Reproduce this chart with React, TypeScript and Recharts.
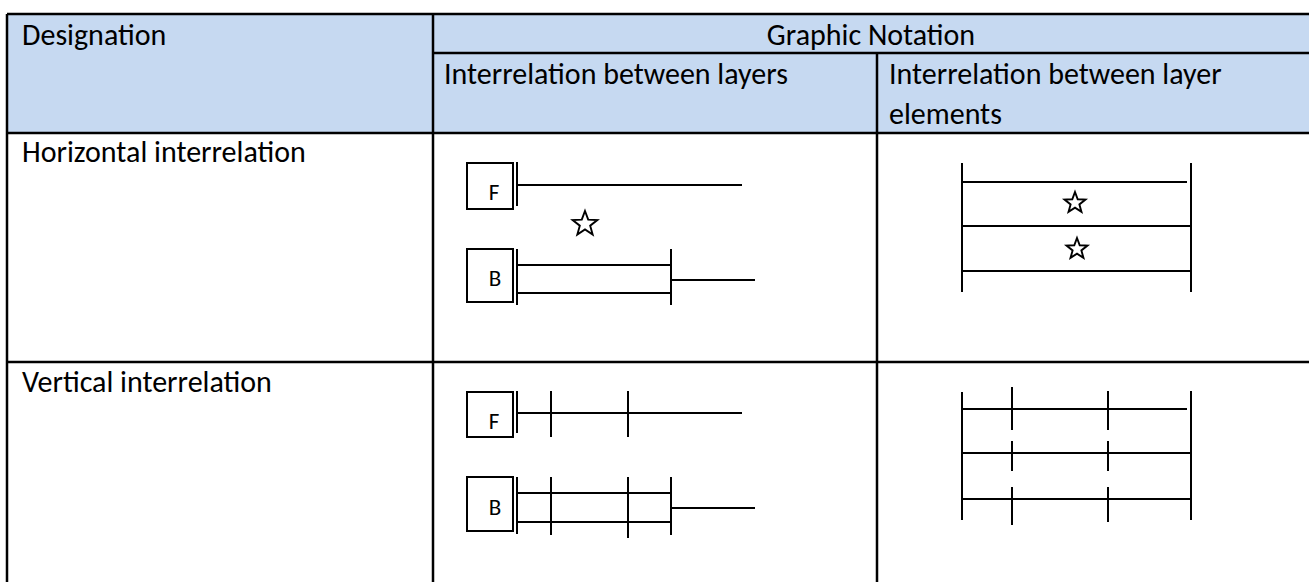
import React from "react";
import {
  ComposedChart,
  XAxis,
  YAxis,
  ReferenceLine,
  ReferenceArea,
  Scatter,
} from "recharts";

const W = 1309;
const H = 582;

// Table grid (diagram units = picture units)
const tableLines = [
  { x1: 7, y1: 14, x2: 1309, y2: 14 },
  { x1: 7, y1: 14, x2: 7, y2: 582 },
  { x1: 433, y1: 14, x2: 433, y2: 582 },
  { x1: 877, y1: 53, x2: 877, y2: 582 },
  { x1: 433, y1: 53, x2: 1309, y2: 53 },
  { x1: 7, y1: 133, x2: 1309, y2: 133 },
  { x1: 7, y1: 362, x2: 1309, y2: 362 },
];

const headerArea = { x1: 7, x2: 1309, y1: 14, y2: 133 };

// Diagram strokes
const diagramLines = [
  // Horizontal interrelation – between layers
  { x1: 517, y1: 162, x2: 517, y2: 206 },
  { x1: 517, y1: 185, x2: 742, y2: 185 },
  { x1: 517, y1: 249, x2: 517, y2: 305 },
  { x1: 517, y1: 265, x2: 671, y2: 265 },
  { x1: 517, y1: 293, x2: 671, y2: 293 },
  { x1: 671, y1: 249, x2: 671, y2: 305 },
  { x1: 671, y1: 280, x2: 755, y2: 280 },
  // Horizontal interrelation – between layer elements
  { x1: 962, y1: 163, x2: 962, y2: 292 },
  { x1: 1191, y1: 163, x2: 1191, y2: 292 },
  { x1: 962, y1: 182, x2: 1187, y2: 182 },
  { x1: 962, y1: 226, x2: 1191, y2: 226 },
  { x1: 962, y1: 271, x2: 1191, y2: 271 },
  // Vertical interrelation – between layers
  { x1: 517, y1: 391, x2: 517, y2: 433 },
  { x1: 517, y1: 413, x2: 742, y2: 413 },
  { x1: 551, y1: 391, x2: 551, y2: 437 },
  { x1: 628, y1: 391, x2: 628, y2: 437 },
  { x1: 517, y1: 477, x2: 517, y2: 534 },
  { x1: 517, y1: 493, x2: 671, y2: 493 },
  { x1: 517, y1: 522, x2: 671, y2: 522 },
  { x1: 551, y1: 477, x2: 551, y2: 535 },
  { x1: 628, y1: 477, x2: 628, y2: 538 },
  { x1: 671, y1: 477, x2: 671, y2: 535 },
  { x1: 671, y1: 508, x2: 755, y2: 508 },
  // Vertical interrelation – between layer elements
  { x1: 962, y1: 392, x2: 962, y2: 520 },
  { x1: 1191, y1: 391, x2: 1191, y2: 520 },
  { x1: 962, y1: 409, x2: 1187, y2: 409 },
  { x1: 962, y1: 453, x2: 1191, y2: 453 },
  { x1: 962, y1: 499, x2: 1191, y2: 499 },
  { x1: 1012, y1: 387, x2: 1012, y2: 430 },
  { x1: 1012, y1: 441, x2: 1012, y2: 471 },
  { x1: 1012, y1: 487, x2: 1012, y2: 525 },
  { x1: 1108, y1: 391, x2: 1108, y2: 430 },
  { x1: 1108, y1: 441, x2: 1108, y2: 471 },
  { x1: 1108, y1: 487, x2: 1108, y2: 522 },
];

const layerBoxes = [
  { x1: 467, x2: 513, y1: 163, y2: 209 },
  { x1: 467, x2: 513, y1: 249, y2: 302 },
  { x1: 467, x2: 513, y1: 392, y2: 437 },
  { x1: 467, x2: 513, y1: 477, y2: 531 },
];

const boxLetters = [
  { x: 494, y: 200, text: "F" },
  { x: 495, y: 286, text: "B" },
  { x: 494, y: 429, text: "F" },
  { x: 495, y: 515, text: "B" },
];

const bigStars = [{ x: 585, y: 224 }];
const smallStars = [
  { x: 1075, y: 203 },
  { x: 1077, y: 249 },
];

const leftTexts = [
  { x: 22, y: 45, text: "Designation" },
  { x: 444, y: 84, text: "Interrelation between layers" },
  { x: 889, y: 84, text: "Interrelation between layer" },
  { x: 889, y: 124, text: "elements" },
  { x: 22, y: 162, text: "Horizontal interrelation" },
  { x: 22, y: 392, text: "Vertical interrelation" },
];

const centerTexts = [{ x: 871, y: 45, text: "Graphic Notation" }];

const FONT = "Carlito, Lato, 'Open Sans', sans-serif";

const textShape = (anchor: string, size: number) => (props: any) => (
  <text
    x={props.cx}
    y={props.cy}
    textAnchor={anchor}
    fontSize={size}
    fontFamily={FONT}
    fill="#000"
  >
    {props.payload.text}
  </text>
);

const starShape = (R: number) => (props: any) => {
  const { cx, cy } = props;
  const r = R * 0.42;
  const pts: string[] = [];
  for (let i = 0; i < 10; i++) {
    const rad = i % 2 === 0 ? R : r;
    const a = -Math.PI / 2 + (i * Math.PI) / 5;
    pts.push(`${cx + rad * Math.cos(a)},${cy + rad * Math.sin(a)}`);
  }
  return (
    <polygon
      points={pts.join(" ")}
      fill="none"
      stroke="#000"
      strokeWidth={1.9}
      strokeLinejoin="miter"
    />
  );
};

export default function App() {
  return (
    <div style={{ position: "absolute", left: 0, top: 0, width: W, height: H, background: "#fff" }}>
      <ComposedChart
        width={W}
        height={H}
        margin={{ top: 0, right: 0, bottom: 0, left: 0 }}
      >
        <XAxis type="number" dataKey="x" domain={[0, W]} hide allowDataOverflow />
        <YAxis type="number" dataKey="y" domain={[0, H]} reversed hide allowDataOverflow />
        <ReferenceArea
          x1={headerArea.x1}
          x2={headerArea.x2}
          y1={headerArea.y1}
          y2={headerArea.y2}
          fill="#C6D9F1"
          fillOpacity={1}
          stroke="none"
          ifOverflow="visible"
        />
        {layerBoxes.map((b, i) => (
          <ReferenceArea
            key={"box" + i}
            x1={b.x1}
            x2={b.x2}
            y1={b.y1}
            y2={b.y2}
            fill="none"
            stroke="#000"
            strokeWidth={2}
            ifOverflow="visible"
          />
        ))}
        {tableLines.map((l, i) => (
          <ReferenceLine
            key={"t" + i}
            segment={[
              { x: l.x1, y: l.y1 },
              { x: l.x2, y: l.y2 },
            ]}
            stroke="#000"
            strokeWidth={2.5}
            ifOverflow="visible"
          />
        ))}
        {diagramLines.map((l, i) => (
          <ReferenceLine
            key={"d" + i}
            segment={[
              { x: l.x1, y: l.y1 },
              { x: l.x2, y: l.y2 },
            ]}
            stroke="#000"
            strokeWidth={2}
            ifOverflow="visible"
          />
        ))}
        <Scatter data={leftTexts} shape={textShape("start", 30)} isAnimationActive={false} />
        <Scatter data={centerTexts} shape={textShape("middle", 30)} isAnimationActive={false} />
        <Scatter data={boxLetters} shape={textShape("middle", 23)} isAnimationActive={false} />
        <Scatter data={bigStars} shape={starShape(13)} isAnimationActive={false} />
        <Scatter data={smallStars} shape={starShape(11)} isAnimationActive={false} />
      </ComposedChart>
    </div>
  );
}
